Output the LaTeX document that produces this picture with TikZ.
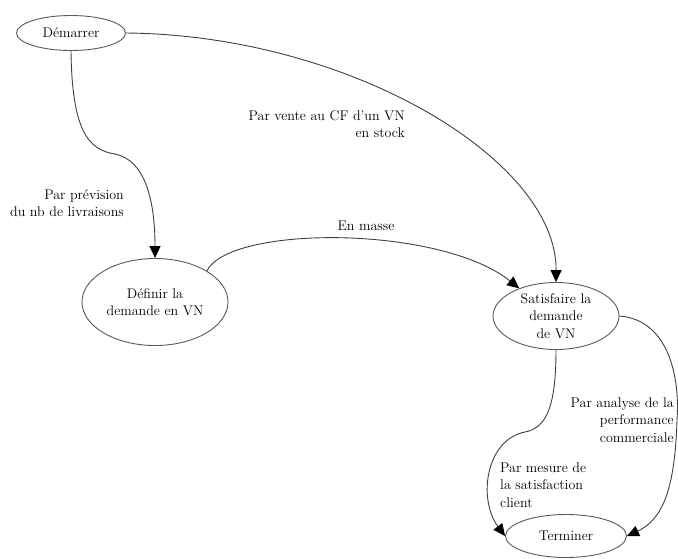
\documentclass[tikz,border=0pt]{standalone}
\usepackage{fontspec}
\usetikzlibrary{shapes.geometric,arrows.meta}
\begin{document}
\begin{tikzpicture}[x=1pt,y=-1pt,
  every node/.style={font=\rmfamily\fontsize{14}{17.5}\selectfont},
  state/.style={ellipse,draw=black!65,line width=0.9pt,inner sep=0pt},
  lbl/.style={inner sep=0pt},
  conn/.style={draw=black!75,line width=0.9pt,-{Triangle[length=12pt,width=11pt,color=black,fill=black]}}]
\useasboundingbox (0,0) rectangle (678,558);
\node[state,minimum width=109pt,minimum height=35pt] (start) at (71,33) {Démarrer};
\node[state,minimum width=146pt,minimum height=87pt,align=center] (def) at (155,302) {Définir la\\demande en VN};
\node[state,minimum width=126pt,minimum height=67pt,align=center] (sat) at (556,316) {Satisfaire la\\demande\\de VN};
\node[state,minimum width=121pt,minimum height=43pt] (term) at (566,536) {Terminer};
\coordinate (m1) at (115,154);
\coordinate (m4) at (525,432);
\coordinate (m5) at (677,420);
\draw[conn] (start.south) .. controls (72,130) and (88,150) .. (m1) .. controls (145,160) and (155,200) .. (def.north);
\draw[conn] (start.east) .. controls (350,35) and (557,160) .. (sat.north);
\draw[conn] (def.31) .. controls (230,225) and (440,225) .. (sat.143);
\draw[conn] (sat.south) .. controls (556,410) and (545,428) .. (m4) .. controls (485,440) and (478,500) .. (term.west);
\draw[conn] (sat.east) .. controls (670,320) and (680,380) .. (m5) .. controls (675,490) and (662,520) .. (term.east);
\node[lbl,anchor=east,align=right] (l1) at (124,203) {Par prévision\\du nb de livraisons};
\node[lbl,anchor=east,align=right] (l2) at (405,124) {Par vente au CF d’un VN\\en stock};
\node[lbl] (l3) at (366,226) {En masse};
\node[lbl,anchor=west,align=left] (l4) at (500,485) {Par mesure de\\la satisfaction\\client};
\node[lbl,anchor=east,align=right] (l5) at (674,420) {Par analyse de la\\performance\\commerciale};
\end{tikzpicture}
\end{document}
